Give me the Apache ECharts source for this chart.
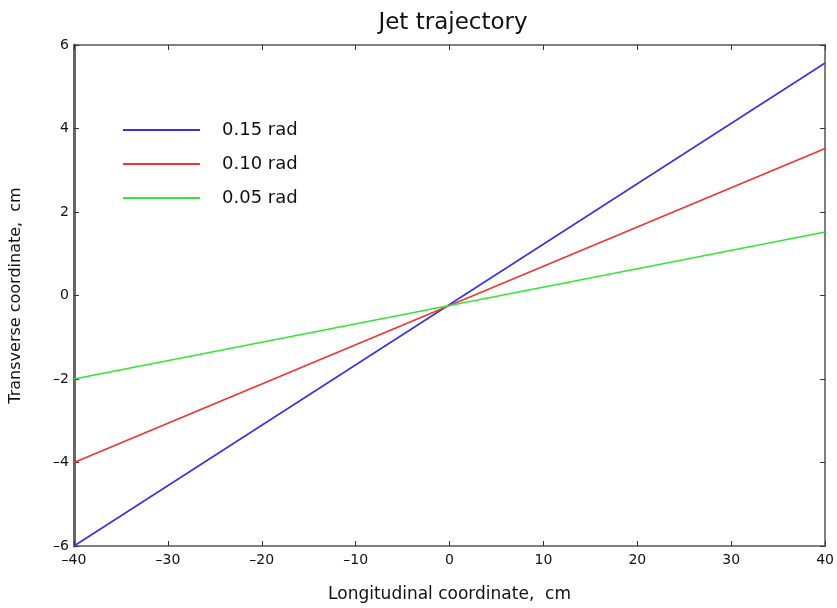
<!DOCTYPE html>
<html>
<head>
<meta charset="utf-8">
<script src="https://cdn.jsdelivr.net/npm/echarts@6/dist/echarts.min.js"></script>
<style>
  html, body { margin: 0; padding: 0; background: #fff; }
  #chart { width: 837px; height: 608px; }
</style>
</head>
<body>
<div id="chart"></div>
<script>
// end points of each trajectory, [longitudinal, transverse]
const xEnds = [-40, 40]
const blue015 = [-6, 5.57]
const red010 = [-4, 3.52]
const green005 = [-2, 1.52]
const seriesNames = ['0.15 rad', '0.10 rad', '0.05 rad']
const xTicks = [-40, -30, -20, -10, 0, 10, 20, 30, 40]
const yTicks = [-6, -4, -2, 0, 2, 4, 6]

const pair = (ys) => xEnds.map((x, i) => [x, ys[i]])
const minus = (v) => String(v).replace('-', '\u2013')

const chart = echarts.init(document.getElementById('chart'))

const tickStyle = { show: true, inside: true, length: 5, lineStyle: { color: '#333', width: 1 } }
const lineStyle = { color: '#555', width: 1.5 }

const option = {
    animation: false,
    textStyle: { fontFamily: 'DejaVu Sans, sans-serif' },
    title: {
        text: 'Jet trajectory',
        left: 448,
        top: 7,
        textAlign: 'center',
        textStyle: { fontSize: 23, fontWeight: 'normal', color: '#111' }
    },
    legend: {
        orient: 'vertical',
        left: 123,
        top: 121,
        padding: 0,
        icon: 'rect',
        itemWidth: 77,
        itemHeight: 2,
        itemGap: 16,
        textStyle: { fontSize: 18, color: '#111', padding: [0, 0, 0, 17] },
        data: seriesNames
    },
    grid: { left: 72, right: 6, top: 45, bottom: 59 },
    xAxis: [
        {
            type: 'value', min: xTicks[0], max: xTicks[xTicks.length - 1], interval: 10,
            name: 'Longitudinal coordinate,  cm',
            nameLocation: 'middle', nameGap: 40,
            nameTextStyle: { fontSize: 17, color: '#111' },
            axisLine: { onZero: false, lineStyle }, axisTick: tickStyle, splitLine: { show: false },
            axisLabel: { fontSize: 14, color: '#111', margin: 7, formatter: minus }
        },
        {
            type: 'value', position: 'top', min: xTicks[0], max: xTicks[xTicks.length - 1], interval: 10,
            axisLine: { onZero: false, lineStyle }, axisTick: tickStyle, splitLine: { show: false },
            axisLabel: { show: false }
        }
    ],
    yAxis: [
        {
            type: 'value', min: yTicks[0], max: yTicks[yTicks.length - 1], interval: 2,
            name: 'Transverse coordinate,  cm',
            nameLocation: 'middle', nameGap: 50,
            nameTextStyle: { fontSize: 16, color: '#111' },
            axisLine: { onZero: false, lineStyle: { color: '#666', width: 3 } }, axisTick: tickStyle, splitLine: { show: false },
            axisLabel: { fontSize: 14, color: '#111', margin: 5, formatter: minus }
        },
        {
            type: 'value', position: 'right', min: yTicks[0], max: yTicks[yTicks.length - 1], interval: 2,
            axisLine: { onZero: false, lineStyle }, axisTick: tickStyle, splitLine: { show: false },
            axisLabel: { show: false }
        }
    ],
    series: [
        { name: seriesNames[0], type: 'line', data: pair(blue015), symbol: 'none', color: '#3434e0', lineStyle: { width: 1.6 } },
        { name: seriesNames[1], type: 'line', data: pair(red010), symbol: 'none', color: '#f03434', lineStyle: { width: 1.6 } },
        { name: seriesNames[2], type: 'line', data: pair(green005), symbol: 'none', color: '#33e633', lineStyle: { width: 1.6 } }
    ]
}

chart.setOption(option)
</script>
</body>
</html>
